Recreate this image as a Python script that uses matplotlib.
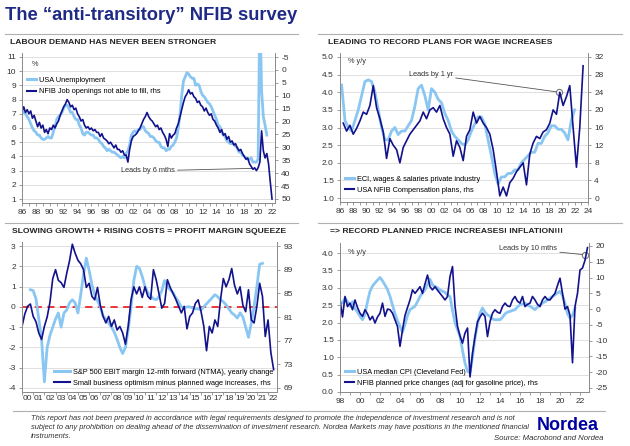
import numpy as np
import matplotlib
matplotlib.use('Agg')
import matplotlib.pyplot as plt
from matplotlib.lines import Line2D
from matplotlib.ticker import FixedLocator, MultipleLocator, FormatStrFormatter

plt.rcParams['font.family'] = ['Liberation Sans', 'DejaVu Sans']
plt.rcParams['axes.unicode_minus'] = False

LIGHT = '#8ac6f2'
DARK = '#12128c'
NAVY = '#1f2a87'

# --- panel 1: labour demand (quarterly) ---
unemp = [7.0, 7.2, 7.0, 6.8, 6.6, 6.3, 6.0, 5.8, 5.7, 5.5, 5.5, 5.3, 5.2, 5.2, 5.3, 5.4,
         5.3, 5.3, 5.7, 6.1, 6.6, 6.8, 6.9, 7.1, 7.4, 7.6, 7.6, 7.4, 7.1, 7.1, 6.8, 6.6,
         6.6, 6.2, 6.0, 5.6, 5.5, 5.7, 5.7, 5.6, 5.5, 5.5, 5.3, 5.3, 5.2, 5.0, 4.9, 4.7,
         4.6, 4.4, 4.5, 4.4, 4.3, 4.3, 4.2, 4.1, 4.0, 3.9, 4.0, 3.9, 4.2, 4.4, 4.8, 5.5,
         5.7, 5.8, 5.7, 5.9, 5.9, 6.1, 6.1, 5.8, 5.7, 5.6, 5.4, 5.4, 5.3, 5.1, 5.0, 5.0,
         4.7, 4.6, 4.6, 4.4, 4.5, 4.5, 4.7, 4.8, 5.0, 5.3, 6.0, 6.9, 8.3, 9.3, 9.6, 9.9,
         9.8, 9.6, 9.5, 9.5, 9.0, 9.1, 9.0, 8.6, 8.3, 8.2, 8.0, 7.8, 7.7, 7.5, 7.2, 6.9,
         6.6, 6.2, 6.1, 5.7, 5.5, 5.4, 5.1, 5.0, 4.9, 4.9, 4.9, 4.7, 4.6, 4.3, 4.3, 4.1,
         4.0, 3.9, 3.8, 3.8, 3.9, 3.6, 3.6, 3.6, 3.8, 14.7, 8.6, 6.8, 6.2, 5.5]
unemp_t = np.linspace(1986.0, 2021.25, len(unemp))

jobs_unfilled = [15.9, 14.3, 16.5, 15.4, 17.0, 15.9, 18.7, 17.6, 19.8, 22.0, 20.3, 22.5,
                 21.4, 24.2, 23.1, 24.7, 22.5, 23.1, 21.4, 22.5, 20.9, 19.8, 17.6, 15.9,
                 14.3, 13.2, 11.5, 12.6, 14.3, 13.7, 15.4, 14.8, 17.0, 18.1, 19.8, 19.2,
                 21.4, 22.5, 22.0, 23.1, 22.5, 23.6, 23.1, 24.2, 24.2, 25.8, 24.7, 26.4,
                 26.9, 27.5, 28.6, 28.0, 29.1, 30.2, 29.1, 30.8, 30.8, 31.9, 31.3, 33.0,
                 33.0, 35.7, 30.8, 27.5, 25.8, 25.3, 24.7, 23.6, 22.5, 20.9, 19.2, 18.1,
                 16.5, 18.1, 19.2, 19.8, 20.9, 22.0, 21.4, 23.1, 22.5, 24.2, 25.3, 26.9,
                 29.7, 24.7, 26.4, 25.3, 24.7, 22.5, 20.9, 18.1, 15.4, 12.6, 10.4, 9.3,
                 7.7, 9.3, 8.8, 10.4, 11.0, 12.6, 12.1, 13.7, 14.3, 15.9, 14.8, 16.5,
                 17.6, 17.0, 19.2, 19.8, 21.4, 22.5, 24.2, 23.1, 25.3, 24.7, 26.9, 25.8,
                 28.0, 27.5, 29.1, 28.6, 30.2, 31.3, 30.8, 32.4, 33.5, 34.6, 34.1, 36.3,
                 37.4, 38.5, 37.9, 39.0, 37.9, 35.7, 23.6, 31.3, 34.1, 32.4, 36.3, 43.4, 50.0]
jobs_t = np.linspace(1986.0, 2022.0, len(jobs_unfilled))

# --- panel 2: wage plans ---
eci = [4.2, 3.2, 3.0, 2.9, 3.2, 3.5, 3.9, 4.3, 4.35, 4.3, 4.0, 3.5, 3.0, 2.65, 2.65, 2.9,
       3.0, 2.8, 2.9, 2.9, 3.05, 3.2, 3.6, 4.1, 4.2, 3.9, 3.5, 4.1, 4.0, 3.8, 3.7, 3.4,
       3.2, 2.9, 2.75, 2.65, 2.55, 2.5, 2.65, 2.9, 3.1, 3.3, 3.3, 3.1, 2.65, 2.2, 1.7, 1.4,
       1.6, 1.6, 1.7, 1.7, 1.8, 1.8, 2.0, 2.1, 2.2, 2.3, 2.3, 2.55, 2.55, 2.75, 2.85, 3.05,
       3.05, 2.95, 2.95, 2.85, 2.65, 3.2, 3.5]
eci_t = np.linspace(1986.25, 2021.95, len(eci))

comp_plans = [17.0, 15.2, 16.5, 14.5, 15.8, 17.5, 19.5, 19.0, 21.0, 25.5, 20.5, 18.0,
              15.0, 9.0, 13.5, 12.0, 11.0, 8.0, 11.5, 13.0, 14.5, 15.5, 16.5, 17.5,
              19.5, 18.0, 20.0, 20.5, 19.5, 21.0, 18.0, 16.0, 14.5, 9.5, 13.0, 11.5,
              8.5, 14.0, 15.5, 19.5, 17.0, 18.5, 17.0, 16.0, 14.5, 11.0, 6.0, 0.5,
              2.5, 0.5, 3.5, 4.5, 6.0, 7.0, 8.0, 3.0, 10.0, 12.5, 14.0, 13.5,
              15.0, 15.5, 17.0, 20.0, 19.0, 24.0, 21.0, 23.0, 25.5, 16.0, 7.0, 16.0, 30.0]
comp_t = np.linspace(1986.5, 2023.25, len(comp_plans))

# --- panel 3: margins ---
ebit_chg = [0.85, 0.8, 0.4, -0.6, -1.6, -3.7, -2.0, -1.4, -1.0, -0.6, -0.3, -1.0, -0.3,
            -0.15, 0.2, 0.35, 0.2, -0.3, 0.6, 1.6, 2.4, 1.8, 1.1, 0.6, 0.3, 0.0, -0.45,
            -0.6, -0.8, -1.0, -1.25, -1.6, -2.0, -2.3, -2.0, -1.1, 0.0, 1.3, 2.0, 1.9,
            1.5, 1.0, 0.7, 0.55, 0.4, 0.35, 0.5, 0.8, 1.3, 1.0, 0.85, 0.7, 0.45, 0.25,
            0.0, -0.05, 0.0, 0.0, -0.05, -0.1, -0.1, -0.15, 0.0, 0.15, 0.3, 0.45, 0.6,
            0.5, 0.35, 0.25, 0.1, -0.1, -0.3, -0.4, -0.55, -0.3, -0.5, -1.0, -1.5, -0.8,
            0.0, 1.0, 2.1, 2.15]
ebit_t = np.linspace(2000.75, 2021.5, len(ebit_chg))

optimism_gap = [79.4, 81.5, 82.8, 83.2, 81.1, 80.2, 78.3, 77.2, 79.4, 81.0, 83.5, 87.5,
                89.0, 87.2, 86.8, 86.0, 88.4, 90.5, 93.3, 91.8, 90.6, 90.0, 89.0, 86.0,
                86.7, 84.5, 83.9, 86.0, 83.0, 81.1, 80.0, 81.1, 79.4, 80.5, 78.8, 79.4,
                78.3, 76.4, 79.5, 83.9, 86.1, 84.9, 86.1, 84.3, 86.1, 84.5, 84.0, 89.0,
                87.3, 84.9, 82.5, 83.3, 87.3, 86.0, 85.0, 84.0, 82.8, 81.7, 82.8, 79.0,
                81.1, 81.7, 83.3, 83.9, 82.0, 79.5, 75.3, 79.4, 78.3, 80.5, 79.4, 83.9,
                87.5, 86.1, 87.3, 89.2, 86.4, 84.9, 86.1, 83.0, 81.9, 85.6, 80.5, 80.0,
                82.8, 86.7, 84.5, 77.7, 80.5, 75.0, 72.1]
opt_t = np.linspace(2000.0, 2022.5, len(optimism_gap))

# --- panel 4: prices ---
median_cpi = [2.6, 2.56, 2.7, 2.6, 2.47, 2.6, 2.4, 2.3, 2.18, 2.08, 2.25, 2.6, 2.9, 3.05,
              3.14, 3.22, 3.3, 3.2, 3.08, 2.95, 2.75, 2.5, 2.25, 2.05, 1.89, 1.72, 1.95,
              2.2, 2.37, 2.42, 2.47, 2.6, 2.75, 2.85, 2.94, 3.1, 3.25, 3.08, 3.04, 3.0,
              2.94, 2.9, 2.87, 2.8, 2.75, 2.35, 2.0, 1.8, 1.6, 1.2, 0.83, 0.6, 0.55, 1.0,
              1.55, 1.95, 2.27, 2.42, 2.3, 2.22, 2.18, 2.1, 2.08, 2.08, 2.08, 2.15, 2.25,
              2.3, 2.32, 2.35, 2.37, 2.45, 2.51, 2.53, 2.56, 2.5, 2.47, 2.42, 2.37, 2.45,
              2.51, 2.56, 2.6, 2.65, 2.7, 2.75, 2.8, 2.85, 2.9, 2.78, 2.55, 2.25, 2.13,
              2.2, 2.42]
cpi_t = np.linspace(1998.0, 2021.5, len(median_cpi))

price_plans = [2.9, -2.5, 4.0, 0.8, 1.9, -0.2, 2.9, 0.5, -1.3, -2.3, -0.2, -1.5, -3.4,
               -2.3, -4.4, -2.5, -1.3, 1.9, -2.3, 0.0, -0.2, -1.3, -3.4, -5.5, -11.8,
               -6.6, -2.0, 0.5, 2.9, 6.1, 5.0, 6.0, 7.1, 5.0, 8.0, 10.8, 7.1, 6.1, 7.1,
               6.0, 5.0, 4.0, 2.9, 4.0, 10.3, 13.5, 1.0, -5.5, -8.5, -10.8, -7.6, -6.0,
               -21.5, -14.0, -8.7, -4.0, -2.5, -1.3, -2.3, -8.7, -4.0, -1.3, -0.2, -1.0,
               -1.3, 0.8, 1.9, 1.0, 0.8, 2.9, 4.0, 2.5, 1.9, 4.0, 0.8, 1.5, 1.9, 4.0, 2.9,
               1.5, 0.8, 2.9, 4.0, 3.0, 2.9, 4.0, 5.0, 7.5, 9.8, 5.0, 0.0, 0.8, -2.0,
               -17.0, 0.8, 5.0, 12.4, 13.0, 15.5, 19.5]
price_t = np.linspace(1998.0, 2022.75, len(price_plans))

W, H = 630, 446
fig = plt.figure(figsize=(W / 100, H / 100), dpi=100)

SMALL = 5.3


def rect(l, t, r, b):
    return [l / W, 1 - b / H, (r - l) / W, (b - t) / H]


def style(ax, axr):
    for a in (ax, axr):
        a.spines['top'].set_visible(False)
        for s in ('left', 'right', 'bottom'):
            a.spines[s].set_color('#8c8c8c')
            a.spines[s].set_linewidth(0.7)
        a.tick_params(which='both', labelsize=6, colors='#8c8c8c', labelcolor='#333333',
                      width=0.6, length=2.5, pad=2)
    ax.tick_params(axis='x', which='minor', length=1.8)
    ax.grid(axis='y', color='#dadada', lw=0.6)
    ax.set_axisbelow(True)


def year_labels(ax, years, minor_step=1):
    ax.xaxis.set_major_locator(FixedLocator(years))
    ax.set_xticklabels(['%02d' % (y % 100) for y in years])
    ax.xaxis.set_minor_locator(MultipleLocator(minor_step))


def legend(axr, labels, **kw):
    hs = [Line2D([], [], color=LIGHT, lw=2.2), Line2D([], [], color=DARK, lw=1.5)]
    axr.legend(hs, labels, frameon=False, fontsize=SMALL, labelspacing=0.55,
               handletextpad=0.4, borderpad=0.2, **kw)


# ---------- panel 1 ----------
ax1 = fig.add_axes(rect(22, 53, 275, 203))
ax1r = ax1.twinx()
ax1.plot(unemp_t, unemp, color=LIGHT, lw=2.0)
ax1r.plot(jobs_t, jobs_unfilled, color=DARK, lw=1.2)
ax1.set_xlim(1986, 2022.43)
ax1.set_ylim(0.72, 11.28)
ax1r.set_ylim(51.55, -6.55)
ax1.yaxis.set_major_locator(MultipleLocator(1))
ax1r.yaxis.set_major_locator(MultipleLocator(5))
year_labels(ax1, list(range(1986, 2023, 2)))
style(ax1, ax1r)
ax1.text(0.04, 0.925, '%', transform=ax1.transAxes, fontsize=SMALL, color='#333333', va='center')
legend(ax1r, ['USA Unemployment', 'NFIB Job openings not able to fill, rhs'],
       loc='upper left', bbox_to_anchor=(0.0, 0.875), handlelength=1.2)
ax1.annotate('Leads by 6 mths', xy=(2019.3, 3.16), xytext=(2008.0, 2.98),
             fontsize=SMALL, color='#333333', ha='right', va='center',
             arrowprops=dict(arrowstyle='-', color='#555555', lw=0.6, shrinkA=0, shrinkB=0))

# ---------- panel 2 ----------
ax2 = fig.add_axes(rect(340, 53, 588, 202))
ax2r = ax2.twinx()
ax2.plot(eci_t, eci, color=LIGHT, lw=2.0)
ax2r.plot(comp_t, comp_plans, color=DARK, lw=1.2)
ax2.set_xlim(1986, 2024)
ax2.set_ylim(0.89, 5.11)
ax2r.set_ylim(-0.88, 32.9)
ax2.yaxis.set_major_locator(MultipleLocator(0.5))
ax2.yaxis.set_major_formatter(FormatStrFormatter('%.1f'))
ax2r.yaxis.set_major_locator(MultipleLocator(4))
year_labels(ax2, list(range(1986, 2025, 2)))
style(ax2, ax2r)
ax2.text(0.032, 0.94, '% y/y', transform=ax2.transAxes, fontsize=SMALL, color='#333333', va='center')
legend(ax2r, ['ECI, wages & salaries private industry', 'USA NFIB Compensation plans, rhs'],
       loc='lower left', bbox_to_anchor=(0.0, 0.02), handlelength=1.2)
ax2.plot([2019.57], [4.0], marker='o', ms=4.5, mfc='none', mec='#777777', mew=0.8)
ax2.annotate('Leads by 1 yr', xy=(2019.57, 4.0), xytext=(2003.3, 4.5),
             fontsize=SMALL, color='#333333', ha='right', va='center',
             arrowprops=dict(arrowstyle='-', color='#555555', lw=0.6, shrinkA=0, shrinkB=2))

# ---------- panel 3 ----------
ax3 = fig.add_axes(rect(22, 242, 277, 392))
ax3r = ax3.twinx()
ax3.plot(ebit_t, ebit_chg, color=LIGHT, lw=2.0)
ax3r.plot(opt_t, optimism_gap, color=DARK, lw=1.2)
ax3.axhline(0, color='#e8292b', lw=1.3, dashes=(4, 3), zorder=1.5)
ax3.set_xlim(2000, 2022.8)
ax3.set_ylim(-4.2, 3.2)
ax3r.set_ylim(68.32, 93.68)
ax3.yaxis.set_major_locator(MultipleLocator(1))
ax3r.set_yticks(range(69, 94, 4))
ax3.xaxis.set_major_locator(MultipleLocator(1))
ax3.xaxis.set_major_formatter(plt.NullFormatter())
mid_years = list(range(2000, 2023))
ax3.xaxis.set_minor_locator(FixedLocator([y + 0.5 for y in mid_years]))
ax3.set_xticklabels(['%02d' % (y % 100) for y in mid_years], minor=True)
style(ax3, ax3r)
ax3.tick_params(axis='x', which='minor', length=0)
legend(ax3r, ['S&P 500 EBIT margin 12-mth forward (NTMA), yearly change',
              'Small business optimism minus planned wage increases, rhs'],
       loc='lower left', bbox_to_anchor=(0.105, 0.0), handlelength=2.2)

# ---------- panel 4 ----------
ax4 = fig.add_axes(rect(340, 243, 589, 392))
ax4r = ax4.twinx()
ax4.plot(cpi_t, median_cpi, color=LIGHT, lw=2.0)
ax4r.plot(price_t, price_plans, color=DARK, lw=1.2)
ax4.set_xlim(1998, 2022.9)
ax4.set_ylim(0.0, 4.29)
ax4r.set_ylim(-26.27, 20.95)
ax4.yaxis.set_major_locator(MultipleLocator(0.5))
ax4.yaxis.set_major_formatter(FormatStrFormatter('%.1f'))
ax4r.yaxis.set_major_locator(MultipleLocator(5))
year_labels(ax4, list(range(1998, 2023, 2)))
style(ax4, ax4r)
ax4.text(0.032, 0.933, '% y/y', transform=ax4.transAxes, fontsize=SMALL, color='#333333', va='center')
legend(ax4r, ['USA median CPI (Cleveland Fed)', 'NFIB planned price changes (adj for gasoline price), rhs'],
       loc='lower left', bbox_to_anchor=(0.0, 0.0), handlelength=1.2)
ax4.plot([2022.5], [3.95], marker='o', ms=4.5, mfc='none', mec='#777777', mew=0.8)
ax4.annotate('Leads by 10 mths', xy=(2022.5, 3.95), xytext=(2019.7, 4.12),
             fontsize=SMALL, color='#333333', ha='right', va='center',
             arrowprops=dict(arrowstyle='-', color='#555555', lw=0.6, shrinkA=0, shrinkB=2))

# ---------- titles, rules, footer ----------
fig.text(5 / W, 1 - 15 / H, 'The \u201canti-transitory\u201d NFIB survey', fontsize=13.2,
         fontweight='bold', color=NAVY, va='center')

panel_titles = [(10, 43, 'LABOUR DEMAND HAS NEVER BEEN STRONGER'),
                (328, 43, 'LEADING TO RECORD PLANS FOR WAGE INCREASES'),
                (12, 232, 'SLOWING GROWTH + RISING COSTS = PROFIT MARGIN SQUEEZE'),
                (330, 232, '=> RECORD PLANNED PRICE INCREASES! INFLATION!!!')]
for x, y, t in panel_titles:
    fig.text(x / W, 1 - y / H, t, fontsize=6.1, fontweight='bold', color='#222222',
             va='center')

for x0, x1, y in [(5, 298, 34), (318, 622, 34), (5, 298, 223), (318, 622, 223), (13, 605, 411)]:
    fig.add_artist(Line2D([x0 / W, x1 / W], [1 - y / H] * 2, color='#b0b0b0', lw=0.8))

footer = ['This report has not been prepared in accordance with legal requirements designed to promote the independence of investment research and is not',
          'subject to any prohibition on dealing ahead of the dissemination of investment research. Nordea Markets may have positions in the mentioned financial',
          'instruments.']
for i, line in enumerate(footer):
    fig.text(31 / W, 1 - (418.5 + 9.2 * i) / H, line, fontsize=5.4, style='italic',
             color='#333333', va='center')
fig.text(568 / W, 1 - 425 / H, 'Nordea', fontsize=13, fontweight='bold', color='#0000a0',
         ha='center', va='center')
fig.text(603 / W, 1 - 438 / H, 'Source: Macrobond and Nordea', fontsize=5.6, style='italic',
         color='#333333', ha='right', va='center')

fig.savefig('out.png', dpi=100)
